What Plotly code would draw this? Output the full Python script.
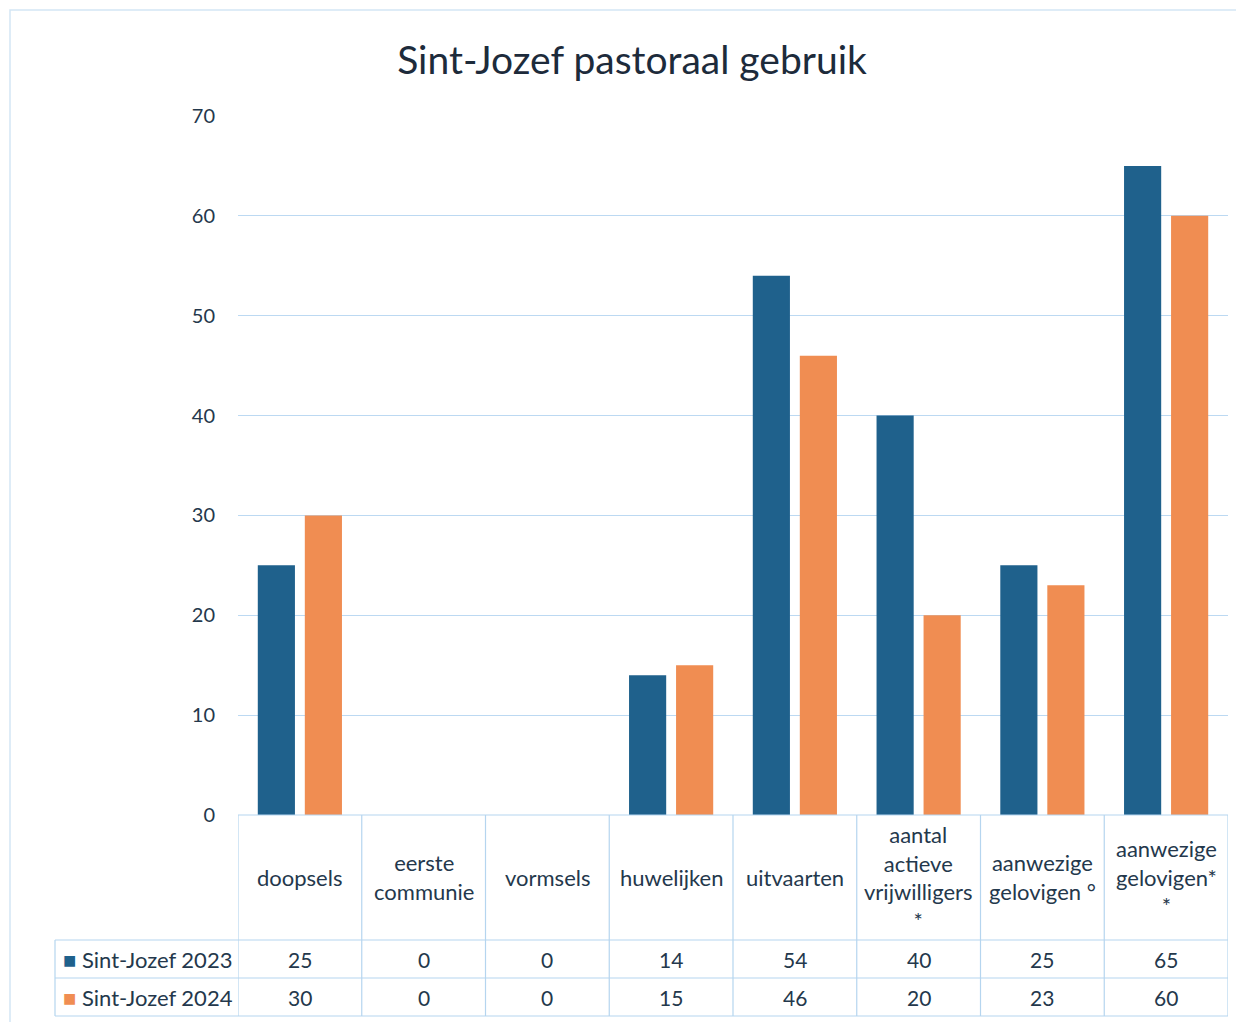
import plotly.graph_objects as go

categories = ["doopsels", "eerste<br>communie", "vormsels", "huwelijken", "uitvaarten",
              "aantal<br>actieve<br>vrijwilligers<br>*", "aanwezige<br>gelovigen °",
              "aanwezige<br>gelovigen*<br>*"]
series_names = ["Sint-Jozef 2023", "Sint-Jozef 2024"]
values_2023 = [25, 0, 0, 14, 54, 40, 25, 65]
values_2024 = [30, 0, 0, 15, 46, 20, 23, 60]
y_ticks = [0, 10, 20, 30, 40, 50, 60, 70]

# page body has an 8px margin: work in screen coordinates and convert
OFF = 8
W, H = 1244 - OFF, 1022 - OFF
L, R, T, B = 238, 1228, 116, 815   # plot area in screen pixels
BLUE = "#1f618c"
ORANGE = "#f08d52"
GRID = "#bcd9f2"
BORDER = "#b5d5ef"
TXT = "#24384c"
FONT = "Lato"

def py(p):
    return (B - p) / (B - T)

def px(p):
    return (p - L) / (R - L)

xs = list(range(len(categories)))

fig = go.Figure()
fig.add_trace(go.Bar(x=xs, y=values_2023, name=series_names[0], marker=dict(color=BLUE, line=dict(width=0))))
fig.add_trace(go.Bar(x=xs, y=values_2024, name=series_names[1], marker=dict(color=ORANGE, line=dict(width=0))))

shapes = []
shapes.append(dict(type="rect", xref="paper", yref="paper", x0=px(10), x1=px(1260), y0=py(1040), y1=py(10),
                   line=dict(color="#d3e6f5", width=1.5), layer="below"))
row_y = [940, 978, 1016]
shapes.append(dict(type="line", xref="paper", yref="paper", x0=0, x1=1, y0=py(B), y1=py(B),
                   line=dict(color=BORDER, width=1.2)))
for ry in row_y:
    shapes.append(dict(type="line", xref="paper", yref="paper", x0=px(55), x1=1, y0=py(ry), y1=py(ry),
                       line=dict(color=BORDER, width=1.2)))
shapes.append(dict(type="line", xref="paper", yref="paper", x0=px(55), x1=px(55), y0=py(940), y1=py(1016),
                   line=dict(color=BORDER, width=1.2)))
for i in range(len(categories) + 1):
    shapes.append(dict(type="line", xref="x", yref="paper", x0=i - 0.5, x1=i - 0.5, y0=py(B), y1=py(1016),
                       line=dict(color=BORDER, width=1.2)))

annotations = []
for i, c in enumerate(categories):
    annotations.append(dict(x=i, xref="x", y=py(877), yref="paper", text=c, showarrow=False,
                            font=dict(family=FONT, size=22, color=TXT), align="center",
                            xanchor="center", yanchor="middle"))
    annotations.append(dict(x=i, xref="x", y=py(959), yref="paper", text=str(values_2023[i]), showarrow=False,
                            font=dict(family=FONT, size=21, color=TXT), xanchor="center", yanchor="middle"))
    annotations.append(dict(x=i, xref="x", y=py(997), yref="paper", text=str(values_2024[i]), showarrow=False,
                            font=dict(family=FONT, size=21, color=TXT), xanchor="center", yanchor="middle"))
for name, col, yy in [(series_names[0], BLUE, 959), (series_names[1], ORANGE, 997)]:
    annotations.append(dict(x=px(61), xref="paper", y=py(yy), yref="paper",
                            text=f"<span style='color:{col}'>■</span> {name}", showarrow=False,
                            font=dict(family=FONT, size=22, color=TXT), xanchor="left", yanchor="middle"))

fig.update_layout(
    width=W, height=H,
    margin=dict(l=L - OFF, r=W - (R - OFF), t=T - OFF, b=H - (B - OFF), pad=0),
    paper_bgcolor="white", plot_bgcolor="white",
    title=dict(text="Sint-Jozef pastoraal gebruik", x=(632 - OFF) / W, xanchor="center",
               y=1 - (60 - OFF) / H, yanchor="middle", xref="container", yref="container",
               font=dict(family=FONT, size=39, color="#1d2b3b")),
    showlegend=False,
    barmode="group", bargap=0.24, bargroupgap=0.21,
    xaxis=dict(range=[-0.5, len(categories) - 0.5], showticklabels=False, showgrid=False, zeroline=False,
               showline=False, ticks=""),
    yaxis=dict(range=[0, 70], tickvals=y_ticks, showgrid=True, gridcolor=GRID, gridwidth=1.2, zeroline=False,
               showline=False, ticks="", ticklabelstandoff=22,
               tickfont=dict(family=FONT, size=20, color=TXT)),
    shapes=shapes, annotations=annotations,
)

fig.write_html("out.html")
